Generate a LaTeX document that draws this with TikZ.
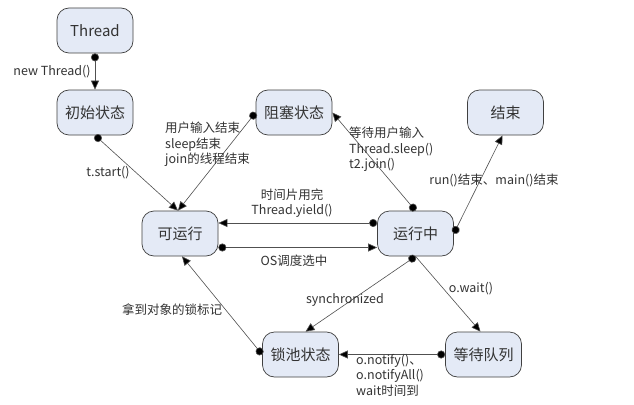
\documentclass[tikz,border=0pt]{standalone}
\usepackage{fontspec}
\setmainfont{Noto Sans CJK SC}
\usetikzlibrary{arrows.meta}
\definecolor{nodefill}{HTML}{E4EAF6}
\definecolor{nodeborder}{HTML}{404040}
\definecolor{txt}{HTML}{333333}
\definecolor{edgecol}{HTML}{505050}
\begin{document}
\begin{tikzpicture}[x=1pt,y=-1pt,
  state/.style={draw=nodeborder, fill=nodefill, rounded corners=12pt, line width=0.7pt,
    minimum width=76pt, minimum height=45pt, inner sep=0pt, text=txt,
    font=\fontsize{15}{18}\selectfont},
  lbl/.style={text=txt, inner sep=0pt, font=\fontsize{12.5}{15.5}\selectfont},
  conn/.style={draw=edgecol, line width=0.6pt,
    {Circle[length=8pt,fill=black]}-{Triangle[length=9pt,width=8pt,fill=black]}},
  plain/.style={draw=edgecol, line width=0.6pt, -{Triangle[length=9pt,width=8pt,fill=black]}}
]
\useasboundingbox (0,0) rectangle (634,404);
\fill[white] (0,0) rectangle (634,404);

\node[state] (thread) at (95,30.5) {Thread};
\node[state] (init) at (95,112.5) {初始状态};
\node[state] (block) at (294,112.5) {阻塞状态};
\node[state] (end) at (505.5,112.5) {结束};
\node[state] (runnable) at (180,233.5) {可运行};
\node[state] (running) at (415.5,233.5) {运行中};
\node[state] (lock) at (300.5,354.5) {锁池状态};
\node[state] (wait) at (483.5,354.5) {等待队列};

\draw[conn] (thread.south) -- (init.north);
\draw[conn] (init.south) -- ([xshift=-2pt]runnable.north);
\draw[conn] (block.west) -- ([xshift=-2pt]runnable.north);
\draw[conn] (running.north) -- (block.east);
\draw[conn] (running.east) -- ([xshift=-3pt]end.south);
\draw[conn] ([yshift=10.5pt]running.west) -- ([yshift=10.5pt]runnable.east);
\draw[conn] ([yshift=-14pt]runnable.east) -- ([yshift=-14pt]running.west);
\draw[conn] (running.south) -- ([xshift=5pt]lock.north);
\draw[plain] (running.south) -- ([xshift=-3pt]wait.north);
\draw[conn] (wait.west) -- (lock.east);
\draw[conn] (lock.west) -- ([xshift=2pt]runnable.south);

\node[lbl] (l1) at (52,72) {new Thread()};
\node[lbl] (l2) at (108,173) {t.start()};
\node[lbl, align=left, anchor=north west] (l3) at (165,122) {用户输入结束\\sleep结束\\join的线程结束};
\node[lbl, align=left, anchor=north west] (l4) at (349,127) {等待用户输入\\Thread.sleep()\\t2.join()};
\node[lbl] (l5) at (494,180) {run()结束、main()结束};
\node[lbl, align=center] (l6) at (292,203) {时间片用完\\Thread.yield()};
\node[lbl] (l7) at (294,261) {OS调度选中};
\node[lbl] (l8) at (345,300) {synchronized};
\node[lbl] (l9) at (471,289) {o.wait()};
\node[lbl, align=left, anchor=north west] (l10) at (356,354) {o.notify()、\\o.notifyAll()\\wait时间到};
\node[lbl] (l11) at (172,310) {拿到对象的锁标记};
\end{tikzpicture}
\end{document}
